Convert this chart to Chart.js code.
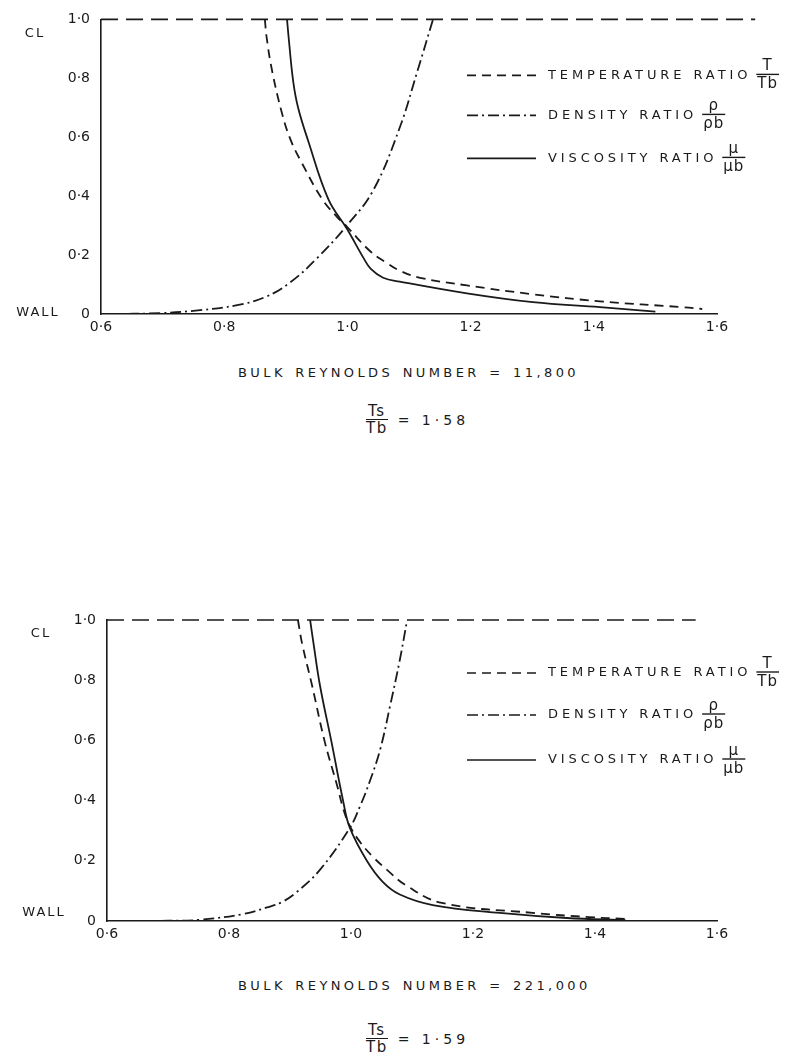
<!DOCTYPE html>
<html>
<head>
<meta charset="utf-8">
<title>Temperature, density and viscosity ratio profiles</title>
<script src="https://cdn.jsdelivr.net/npm/chart.js@4.4.1/dist/chart.umd.min.js"></script>
<style>
  body { margin: 0; background: #fff; width: 806px; height: 1059px; position: relative;
         font-family: "DejaVu Sans", sans-serif; color: #1a1a1a; overflow: hidden; }
  .chart { position: absolute; left: 0; width: 806px; }
  .cap { position: absolute; font-size: 13px; letter-spacing: 3.4px; word-spacing: 2px; white-space: nowrap; }
  .ratio { position: absolute; font-size: 14px; white-space: nowrap; display: flex; align-items: center; }
  .frac { display: inline-block; text-align: center; letter-spacing: 1.5px; font-size: 15px; }
  .frac span { display: block; line-height: 16px; }
  .frac .num { border-bottom: 1.5px solid #1a1a1a; padding: 0 1px; }
  .val { margin-left: 10px; letter-spacing: 4px; }
</style>
</head>
<body>
<div class="chart" style="top:0;height:345px"><canvas id="chartTop"></canvas></div>
<div class="chart" style="top:600px;height:352px"><canvas id="chartBottom"></canvas></div>

<div class="cap" id="capTop" style="left:238px;top:365px"></div>
<div class="ratio" id="ratioTop" style="left:366px;top:403px"></div>
<div class="cap" id="capBottom" style="left:238px;top:978px"></div>
<div class="ratio" id="ratioBottom" style="left:366px;top:1022px"></div>

<script>
// axis ticks
const xTickValues = [0.6, 0.8, 1.0, 1.2, 1.4, 1.6];
const xTickLabels = ['0·6', '0·8', '1·0', '1·2', '1·4', '1·6'];
const yTickValues = [0, 0.2, 0.4, 0.6, 0.8, 1.0];
const yTickLabels = ['0', '0·2', '0·4', '0·6', '0·8', '1·0'];

// legend
const legendText = ['TEMPERATURE RATIO', 'DENSITY RATIO', 'VISCOSITY RATIO'];
const legendNum = ['T', 'ρ', 'μ'];
const legendDen = ['Tb', 'ρb', 'μb'];

// captions
const reynolds = ['11,800', '221,000'];
const tsTb = ['1·58', '1·59'];

// --- top chart (Re = 11,800) --- x = ratio, y = distance from wall (0) to CL (1)
const tempX1 = [0.866, 0.869, 0.878, 0.894, 0.908, 0.926, 0.959, 0.983, 0.999, 1.037, 1.064, 1.085, 1.118, 1.194, 1.301, 1.41, 1.545, 1.576];
const tempY1 = [1.0, 0.937, 0.823, 0.68, 0.59, 0.513, 0.39, 0.33, 0.297, 0.213, 0.173, 0.147, 0.123, 0.097, 0.067, 0.043, 0.023, 0.017];
const densX1 = [0.61, 0.696, 0.761, 0.821, 0.866, 0.907, 0.951, 0.999, 1.042, 1.085, 1.113, 1.139];
const densY1 = [0.0, 0.003, 0.013, 0.03, 0.057, 0.107, 0.19, 0.30, 0.42, 0.633, 0.82, 1.0];
const viscX1 = [0.902, 0.905, 0.912, 0.920, 0.936, 0.969, 0.999, 1.027, 1.038, 1.058, 1.085, 1.194, 1.301, 1.41, 1.50];
const viscY1 = [1.0, 0.93, 0.79, 0.70, 0.59, 0.39, 0.29, 0.187, 0.153, 0.123, 0.11, 0.07, 0.04, 0.023, 0.008];
const clX1 = [0.6, 1.662];
const clY1 = [1.0, 1.0];

// --- bottom chart (Re = 221,000) ---
const tempX2 = [0.913, 0.920, 0.936, 0.957, 0.977, 0.987, 0.998, 1.015, 1.036, 1.059, 1.089, 1.149, 1.298, 1.39, 1.449];
const tempY2 = [1.0, 0.92, 0.784, 0.595, 0.452, 0.375, 0.316, 0.262, 0.213, 0.17, 0.12, 0.06, 0.027, 0.013, 0.007];
const densX2 = [0.62, 0.70, 0.752, 0.823, 0.862, 0.887, 0.911, 0.949, 0.998, 1.015, 1.031, 1.048, 1.064, 1.08, 1.092];
const densY2 = [0.0, 0.001, 0.004, 0.023, 0.045, 0.063, 0.096, 0.17, 0.309, 0.382, 0.465, 0.571, 0.714, 0.867, 1.0];
const viscX2 = [0.933, 0.938, 0.949, 0.968, 0.987, 0.998, 1.026, 1.052, 1.08, 1.134, 1.244, 1.354, 1.45];
const viscY2 = [1.0, 0.93, 0.784, 0.595, 0.40, 0.31, 0.20, 0.13, 0.088, 0.053, 0.027, 0.01, 0.003];
const clX2 = [0.6, 1.565];
const clY2 = [1.0, 1.0];

const ink = '#1a1a1a';
const FONT = '"DejaVu Sans", sans-serif';

function pts(xs, ys) {
  return xs.map((x, i) => ({ x: x, y: ys[i] }));
}

// CL / WALL labels and the hand-drawn style legend with fractions
const annotate = {
  id: 'annotate',
  afterDraw(chart, args, o) {
    const { ctx, chartArea: ca } = chart;
    ctx.save();
    ctx.fillStyle = ink;
    ctx.strokeStyle = ink;
    ctx.textBaseline = 'middle';
    ctx.font = '13px ' + FONT;
    ctx.textAlign = 'center';
    ctx.letterSpacing = '2px';
    ctx.fillText('CL', ca.left - 66, ca.top + 14);
    ctx.fillText('WALL', ca.left - 63, ca.bottom - o.wallUp);

    o.rows.forEach((dy, i) => {
      const ds = chart.data.datasets[i];
      const y = ca.top + dy;
      ctx.lineWidth = 1.6;
      ctx.setLineDash(ds.borderDash || []);
      ctx.beginPath();
      ctx.moveTo(467, y);
      ctx.lineTo(536, y);
      ctx.stroke();
      ctx.setLineDash([]);

      ctx.textAlign = 'left';
      ctx.font = '13px ' + FONT;
      ctx.letterSpacing = '3.9px';
      ctx.fillText(legendText[i], 548, y);
      const w = ctx.measureText(legendText[i]).width;

      // fraction
      ctx.font = '15px ' + FONT;
      ctx.letterSpacing = '1px';
      const fw = Math.max(ctx.measureText(legendNum[i]).width, ctx.measureText(legendDen[i]).width);
      const fx = 548 + w + 6;
      ctx.textAlign = 'center';
      ctx.fillText(legendNum[i], fx + fw / 2, y - 9);
      ctx.fillText(legendDen[i], fx + fw / 2, y + 9);
      ctx.lineWidth = 1.4;
      ctx.beginPath();
      ctx.moveTo(fx - 1, y - 1);
      ctx.lineTo(fx + fw + 1, y - 1);
      ctx.stroke();
    });
    ctx.restore();
  }
};

function makeChart(id, s, o) {
  const line = { borderColor: ink, borderWidth: 1.8, pointRadius: 0, fill: false, tension: 0.4 };
  return new Chart(document.getElementById(id), {
    type: 'line',
    data: {
      datasets: [
        Object.assign({ label: 'Temperature ratio T/Tb', data: pts(s.tx, s.ty), borderDash: [9, 6] }, line),
        Object.assign({ label: 'Density ratio ρ/ρb', data: pts(s.dx, s.dy), borderDash: [11, 4, 2, 4] }, line),
        Object.assign({ label: 'Viscosity ratio μ/μb', data: pts(s.vx, s.vy), borderDash: [] }, line),
        { label: 'CL', data: pts(s.cx, s.cy), borderColor: ink, borderWidth: 1.6, borderDash: [17, 8],
          pointRadius: 0, fill: false, clip: false }
      ]
    },
    options: {
      responsive: true,
      maintainAspectRatio: false,
      animation: false,
      layout: { padding: { left: 0, right: 89, top: o.top, bottom: 0 } },
      plugins: {
        legend: { display: false },
        tooltip: { enabled: false },
        annotate: { rows: o.rows, wallUp: o.wallUp }
      },
      scales: {
        x: {
          type: 'linear', min: 0.6, max: 1.6,
          afterBuildTicks: sc => { sc.ticks = xTickValues.map(v => ({ value: v })); },
          afterFit: sc => { sc.height = 31; },
          grid: { display: false, drawTicks: false },
          border: { display: true, color: ink, width: 1.6 },
          ticks: { color: ink, font: { family: FONT, size: 14 }, padding: 5, maxRotation: 0,
                   autoSkip: false, callback: (v, i) => xTickLabels[i] }
        },
        y: {
          type: 'linear', min: 0, max: 1,
          afterBuildTicks: sc => { sc.ticks = yTickValues.map(v => ({ value: v })); },
          afterFit: sc => { sc.width = o.left; },
          grid: { display: false, drawTicks: false },
          border: { display: true, color: ink, width: 1.6 },
          ticks: { color: ink, font: { family: FONT, size: 14 }, padding: 11,
                   callback: (v, i) => yTickLabels[i] }
        }
      }
    },
    plugins: [annotate]
  });
}

makeChart('chartTop',
  { tx: tempX1, ty: tempY1, dx: densX1, dy: densY1, vx: viscX1, vy: viscY1, cx: clX1, cy: clY1 },
  { top: 14, left: 101, rows: [56, 96, 139], wallUp: 1 });
makeChart('chartBottom',
  { tx: tempX2, ty: tempY2, dx: densX2, dy: densY2, vx: viscX2, vy: viscY2, cx: clX2, cy: clY2 },
  { top: 20, left: 107, rows: [53, 95, 140], wallUp: 8 });

// captions under each chart
function fillCaption(capId, ratioId, k) {
  document.getElementById(capId).textContent = 'BULK REYNOLDS NUMBER = ' + reynolds[k];
  document.getElementById(ratioId).innerHTML =
    '<span class="frac"><span class="num">Ts</span><span>Tb</span></span>' +
    '<span class="val">= ' + tsTb[k] + '</span>';
}
fillCaption('capTop', 'ratioTop', 0);
fillCaption('capBottom', 'ratioBottom', 1);
</script>
</body>
</html>
